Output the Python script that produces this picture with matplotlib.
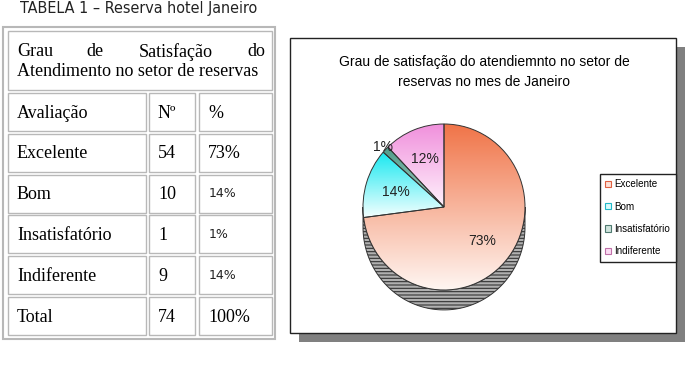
import numpy as np
import matplotlib
matplotlib.use('Agg')
import matplotlib.pyplot as plt
from matplotlib import font_manager
from matplotlib.patches import Rectangle, Polygon, Patch
from matplotlib.colors import LinearSegmentedColormap

# dados
categorias = ['Excelente', 'Bom', 'Insatisfatório', 'Indiferente']
quantidade = [54, 10, 1, 9]
pct_tabela = ['73%', '14%', '1%', '14%']
pct_grafico = ['73%', '14%', '1%', '12%']
total = ['Total', '74', '100%']

nomes = {f.name for f in font_manager.fontManager.ttflist}
narrow = 'Liberation Sans Narrow' if 'Liberation Sans Narrow' in nomes else 'Liberation Sans'
plt.rcParams['hatch.color'] = '#707070'
plt.rcParams['hatch.linewidth'] = 0.8

W, H = 689, 365
fig = plt.figure(figsize=(W / 100, H / 100), dpi=100)
bg = fig.add_axes([0, 0, 1, 1])
bg.set_xlim(0, W)
bg.set_ylim(H, 0)
bg.axis('off')

serif = 'Liberation Serif'
cinza = '#b8b8b8'

# titulo da tabela (ajusta a largura ao original)
tit = bg.text(20, 13.5, 'TABELA 1 – Reserva hotel Janeiro', fontsize=12,
              family='DejaVu Sans', stretch='condensed', va='baseline',
              ha='left', color='#222222')
fig.canvas.draw()
larg = tit.get_window_extent().width
tit.set_fontsize(12 * 237 / larg)

# tabela
bg.add_patch(Rectangle((3, 27), 272, 312, fill=False, ec=cinza, lw=1.5))
bg.add_patch(Rectangle((8, 31), 264, 59, fill=False, ec=cinza, lw=1))
for x, txt, ha in [(17, 'Grau', 'left'), (86, 'de', 'left'),
                   (139, 'Satisfação', 'left'), (265, 'do', 'right')]:
    bg.text(x, 52, txt, fontsize=13, family=serif, ha=ha, va='center')
bg.text(17, 72, 'Atendimento no setor de reservas', fontsize=13, family=serif,
        ha='left', va='center')

linhas = [['Avaliação', 'Nº', '%']]
for c, q, p in zip(categorias, quantidade, pct_tabela):
    linhas.append([c, str(q), p])
linhas.append(total)

cols = [(8, 138), (149, 46), (199, 73)]
y0, passo, alt = 93, 40.8, 38
for i, linha in enumerate(linhas):
    y = y0 + i * passo
    for j, (cx, cw) in enumerate(cols):
        bg.add_patch(Rectangle((cx, y), cw, alt, fill=False, ec=cinza, lw=1))
        txt = linha[j]
        if j == 2 and 2 <= i <= 4:
            bg.text(cx + 10, y + alt / 2, txt, fontsize=9, family='DejaVu Sans',
                    ha='left', va='center', color='#222222')
        else:
            bg.text(cx + 9, y + alt / 2 + 1, txt, fontsize=13, family=serif,
                    ha='left', va='center')

# caixa do grafico com sombra
bg.add_patch(Rectangle((299, 47), 386, 295, fc='#808080', ec='none'))
bg.add_patch(Rectangle((290, 38), 386, 295, fc='white', ec='#222222', lw=1))
bg.text(484, 62, 'Grau de satisfação do atendiemnto no setor de', fontsize=10,
        family=narrow, ha='center', va='center')
bg.text(484, 82, 'reservas no mes de Janeiro', fontsize=10,
        family=narrow, ha='center', va='center')

# pizza
cx, cy, rx, ry = 444, 207, 81, 83
mx, mtop, mbot = 1.1, 1.1, 1.5
ax = fig.add_axes([(cx - mx * rx) / W, (H - (cy + mbot * ry)) / H,
                   2 * mx * rx / W, (mtop + mbot) * ry / H])
wedges, textos = ax.pie(quantidade, labels=pct_grafico, startangle=90,
                        counterclock=False, labeldistance=0.62,
                        wedgeprops=dict(fc='none', ec='#333333', lw=0.7),
                        textprops=dict(fontsize=10, family=narrow, color='#222222'))
for w in wedges:
    w.set_zorder(4)
for t in textos:
    t.set_ha('center')
    t.set_va('center')
    t.set_zorder(5)
p = np.array(textos[2].get_position())
textos[2].set_position(p * 1.04 / 0.62)

# lateral 3d
d = 0.24
ang = np.linspace(np.pi, 2 * np.pi, 100)
lado = np.vstack([np.c_[np.cos(ang), np.sin(ang) - d],
                  np.c_[np.cos(ang[::-1]), np.sin(ang[::-1])]])
ax.add_patch(Polygon(lado, closed=True, fc='#b0b0b0', ec='#333333', lw=0.7,
                     hatch='-----', zorder=1))

cores = [('#f07448', '#fff6f2'), ('#18e8f0', '#f6ffff'),
         ('#4f9a88', '#a8d4c8'), ('#f090dc', '#fff2fc')]
for w, (topo, base) in zip(wedges, cores):
    a = np.radians(np.linspace(w.theta1, w.theta2, 60))
    ys = np.r_[np.sin(a), 0]
    xs = np.r_[np.cos(a), 0]
    cmap = LinearSegmentedColormap.from_list('g', [base, topo])
    grad = np.linspace(1, 0, 256).reshape(-1, 1)
    im = ax.imshow(grad, cmap=cmap, extent=[xs.min(), xs.max(), ys.min(), ys.max()],
                   origin='upper', aspect='auto', zorder=2)
    im.set_clip_path(w)

ax.set_aspect('auto')
ax.set_xlim(-mx, mx)
ax.set_ylim(-mbot, mtop)
ax.axis('off')

# legenda
claros = ['#fde0d6', '#d8fbfc', '#cfe3dc', '#fbdcf4']
bordas = ['#e06040', '#20b8c8', '#4f7a70', '#c070a8']
handles = [Patch(fc=c, ec=b, lw=0.8) for c, b in zip(claros, bordas)]
fig.legend(handles, categorias, loc='upper left',
           bbox_to_anchor=(600 / W, 1 - 174 / H), frameon=True, fancybox=False,
           edgecolor='#222222', framealpha=1, prop=dict(family=narrow, size=7.1),
           handlelength=0.6, handleheight=0.6, handletextpad=0.3,
           labelspacing=1.25, borderpad=0.55, borderaxespad=0)

fig.savefig('out.png', dpi=100)
